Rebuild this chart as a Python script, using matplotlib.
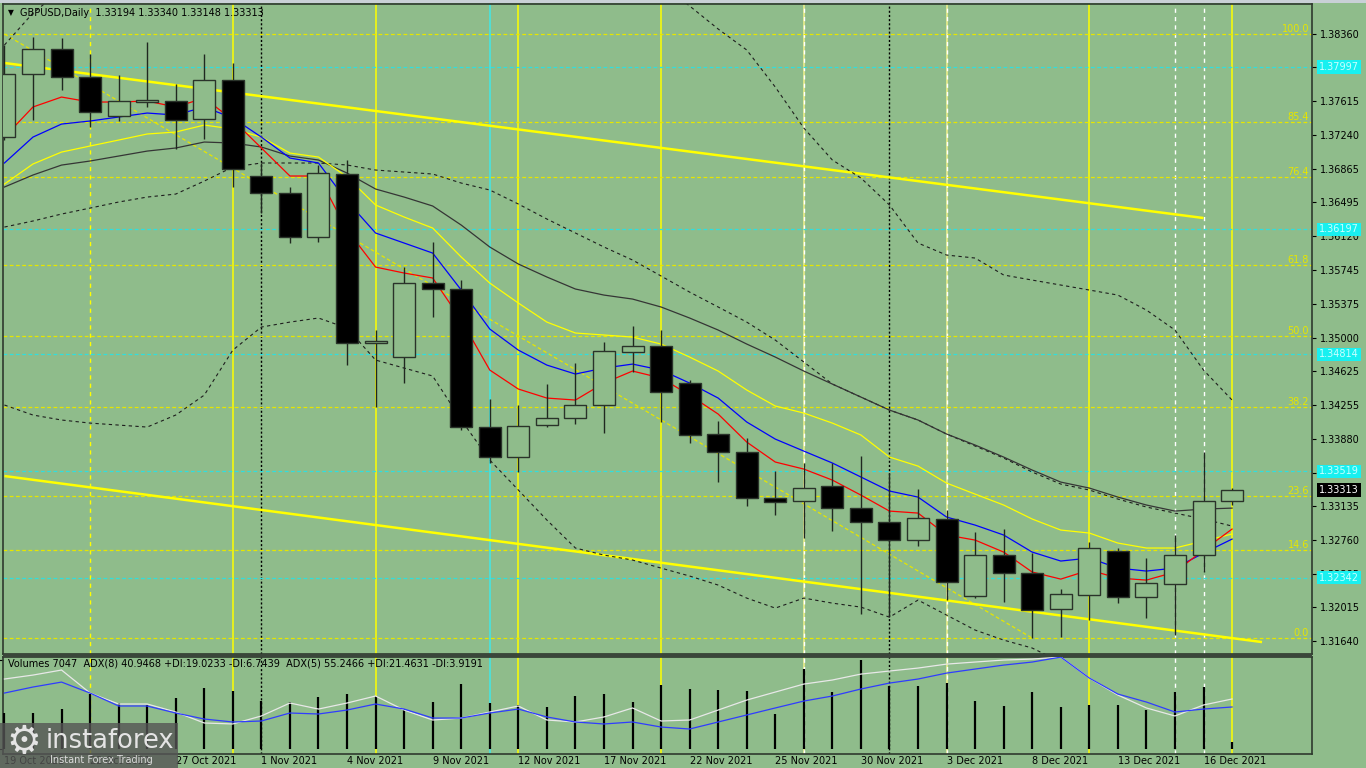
import matplotlib
matplotlib.use("Agg")
import matplotlib.pyplot as plt
from matplotlib.patches import Rectangle
from matplotlib.transforms import blended_transform_factory as blend

W, H = 1366, 768
BG = "#8fbc8b"

# GBPUSD daily, 19 Oct 2021 .. 17 Dec 2021
opens = [1.37220, 1.37917, 1.38194, 1.37884, 1.37452, 1.37607, 1.37618, 1.37419, 1.37850, 1.36788,
         1.36600, 1.36112, 1.36810, 1.34939, 1.34784, 1.35603, 1.35537, 1.34009, 1.33677, 1.34031,
         1.34108, 1.34252, 1.34839, 1.34905, 1.34496, 1.33931, 1.33732, 1.33223, 1.33189, 1.33356,
         1.33112, 1.32957, 1.32758, 1.32990, 1.32138, 1.32592, 1.32392, 1.31994, 1.32149, 1.32636,
         1.32127, 1.32271, 1.32592, 1.33194]
highs = [1.38238, 1.38327, 1.38316, 1.38138, 1.37906, 1.38271, 1.37806, 1.38138, 1.38039, 1.36932,
         1.36666, 1.36910, 1.36965, 1.35083, 1.35780, 1.36057, 1.35636, 1.34319, 1.34252, 1.34485,
         1.34717, 1.34950, 1.35127, 1.35083, 1.34529, 1.34075, 1.33887, 1.33522, 1.33610, 1.33610,
         1.33688, 1.33499, 1.33322, 1.33090, 1.32846, 1.32880, 1.32614, 1.32215, 1.32736, 1.32669,
         1.32558, 1.32813, 1.33732, 1.33340]
lows = [1.37186, 1.37408, 1.37740, 1.37330, 1.37397, 1.37552, 1.37087, 1.37198, 1.36666, 1.36378,
        1.36046, 1.36057, 1.34695, 1.34230, 1.34496, 1.35227, 1.33975, 1.33610, 1.33510, 1.34009,
        1.34042, 1.33942, 1.34618, 1.34064, 1.33832, 1.33400, 1.33134, 1.33034, 1.32780, 1.32857,
        1.31938, 1.31905, 1.32691, 1.32093, 1.32120, 1.32071, 1.31673, 1.31684, 1.31872, 1.32060,
        1.31894, 1.31706, 1.32403, 1.33148]
closes = [1.37917, 1.38194, 1.37884, 1.37496, 1.37618, 1.37629, 1.37408, 1.37850, 1.36865, 1.36600,
          1.36112, 1.36821, 1.34939, 1.34961, 1.35603, 1.35537, 1.34009, 1.33677, 1.34020, 1.34108,
          1.34252, 1.34850, 1.34905, 1.34396, 1.33920, 1.33732, 1.33223, 1.33178, 1.33333, 1.33112,
          1.32957, 1.32758, 1.33001, 1.32293, 1.32592, 1.32392, 1.31983, 1.32160, 1.32669, 1.32127,
          1.32282, 1.32592, 1.33189, 1.33313]

ma_red = [1.37219, 1.37552, 1.37662, 1.37607, 1.37607, 1.37618, 1.37552, 1.37651, 1.37408, 1.37098,
          1.36788, 1.36788, 1.36190, 1.35780, 1.35714, 1.35659, 1.35194, 1.34640, 1.34430, 1.34330,
          1.34308, 1.34496, 1.34629, 1.34552, 1.34363, 1.34153, 1.33843, 1.33622, 1.33544, 1.33422,
          1.33256, 1.33079, 1.33057, 1.32814, 1.32758, 1.32625, 1.32404, 1.32326, 1.32426, 1.32338,
          1.32315, 1.32404, 1.32647, 1.32880]
ma_blue = [1.36932, 1.37219, 1.37363, 1.37397, 1.37441, 1.37485, 1.37463, 1.37552, 1.37430, 1.37219,
           1.36987, 1.36932, 1.36511, 1.36157, 1.36046, 1.35935, 1.35526, 1.35094, 1.34861, 1.34695,
           1.34596, 1.34662, 1.34706, 1.34640, 1.34496, 1.34330, 1.34065, 1.33876, 1.33743, 1.33611,
           1.33456, 1.33301, 1.33234, 1.33013, 1.32924, 1.32814, 1.32625, 1.32526, 1.32559, 1.32448,
           1.32415, 1.32448, 1.32614, 1.32769]
ma_yellow = [1.36699, 1.36921, 1.37053, 1.37120, 1.37186, 1.37253, 1.37275, 1.37352, 1.37308, 1.37219,
             1.37042, 1.36998, 1.36777, 1.36467, 1.36334, 1.36212, 1.35891, 1.35603, 1.35382, 1.35171,
             1.35050, 1.35028, 1.35005, 1.34928, 1.34784, 1.34629, 1.34419, 1.34242, 1.34164, 1.34053,
             1.33921, 1.33677, 1.33577, 1.33389, 1.33267, 1.33146, 1.32991, 1.32869, 1.32836, 1.32725,
             1.32670, 1.32670, 1.32747, 1.32825]
ma_gray = [1.36666, 1.36799, 1.36909, 1.36954, 1.37009, 1.37064, 1.37098, 1.37164, 1.37153, 1.37109,
           1.37009, 1.36965, 1.36821, 1.36644, 1.36555, 1.36456, 1.36245, 1.36002, 1.35814, 1.35670,
           1.35537, 1.35470, 1.35426, 1.35338, 1.35216, 1.35083, 1.34928, 1.34784, 1.34629, 1.34485,
           1.34341, 1.34197, 1.34087, 1.33932, 1.33810, 1.33677, 1.33533, 1.33400, 1.33334, 1.33234,
           1.33146, 1.33079, 1.33101, 1.33112]
bb_mid = [1.36223, 1.36290, 1.36367, 1.36433, 1.36500, 1.36555, 1.36588, 1.36732, 1.36887, 1.36932,
          1.36932, 1.36932, 1.36910, 1.36854, 1.36832, 1.36810, 1.36710, 1.36633, 1.36478, 1.36312,
          1.36157, 1.36002, 1.35858, 1.35681, 1.35503, 1.35338, 1.35171, 1.34972, 1.34729, 1.34485,
          1.34341, 1.34197, 1.34087, 1.33932, 1.33799, 1.33666, 1.33511, 1.33378, 1.33312, 1.33212,
          1.33124, 1.33057, 1.32991, 1.32913]
bb_up = [1.38238, 1.38592, 1.38847, 1.38813, 1.38968, 1.39101, 1.39035, 1.39101, 1.38913, 1.38825,
         1.38791, 1.38769, 1.38825, 1.38957, 1.39002, 1.39046, 1.39334, 1.39622, 1.39644, 1.39644,
         1.39644, 1.39411, 1.39179, 1.38913, 1.38670, 1.38415, 1.38183, 1.37773, 1.37319, 1.36965,
         1.36766, 1.36467, 1.36046, 1.35913, 1.35880, 1.35692, 1.35636, 1.35581, 1.35526, 1.35470,
         1.35304, 1.35083, 1.34640, 1.34308]
bb_low = [1.34253, 1.34142, 1.34087, 1.34053, 1.34031, 1.34009, 1.34142, 1.34363, 1.34861, 1.35116,
          1.35171, 1.35216, 1.35105, 1.34751, 1.34662, 1.34574, 1.34087, 1.33644, 1.33312, 1.32980,
          1.32670, 1.32592, 1.32537, 1.32448, 1.32360, 1.32260, 1.32116, 1.32005, 1.32116, 1.32060,
          1.32016, 1.31905, 1.32094, 1.31928, 1.31762, 1.31651, 1.31563, 1.31408, 1.31098, 1.30932,
          1.30877, 1.30987, 1.31208, 1.31374]

volumes = [37200, 37200, 41300, 56800, 47500, 45400, 52600, 62900, 59900, 49500,
           48500, 53700, 56800, 54700, 41300, 48500, 67100, 47500, 45400, 43300,
           54700, 56800, 48500, 66000, 61900, 60900, 59900, 36100, 82600, 58800,
           91830, 65000, 65000, 68100, 49500, 44400, 58800, 43300, 45400, 45400,
           40200, 58800, 64000, 7047]
adx_white = [77.8, 82.2, 87.8, 62.2, 50.0, 50.0, 41.1, 28.9, 27.8, 36.7,
             51.1, 44.4, 51.1, 58.9, 43.3, 32.2, 34.4, 41.1, 47.8, 32.2,
             30.0, 35.6, 45.6, 31.1, 32.2, 43.3, 54.4, 63.3, 72.2, 76.7,
             83.3, 86.7, 90.0, 94.4, 96.7, 98.9, 100.0, 102.2, 78.9, 60.0,
             45.6, 36.7, 48.9, 55.6]
adx_blue = [62.2, 68.9, 74.4, 62.2, 47.8, 47.8, 40.0, 33.3, 30.0, 31.1,
            40.0, 38.9, 43.3, 50.0, 44.4, 34.4, 34.4, 40.0, 44.4, 35.6,
            30.0, 27.8, 30.0, 24.4, 22.2, 30.0, 37.8, 45.6, 53.3, 58.9,
            66.7, 73.3, 77.8, 84.4, 88.9, 93.3, 96.7, 102.2, 78.9, 61.1,
            52.2, 41.1, 44.4, 46.7]

date_idx = [0, 3, 6, 9, 12, 15, 18, 21, 24, 27, 30, 33, 36, 39, 42]
date_txt = ["19 Oct 2021", "22 Oct 2021", "27 Oct 2021", "1 Nov 2021", "4 Nov 2021",
            "9 Nov 2021", "12 Nov 2021", "17 Nov 2021", "22 Nov 2021", "25 Nov 2021",
            "30 Nov 2021", "3 Dec 2021", "8 Dec 2021", "13 Dec 2021", "16 Dec 2021"]

price_ticks = [1.38360, 1.37990, 1.37615, 1.37240, 1.36865, 1.36495, 1.36120, 1.35745, 1.35375,
               1.35000, 1.34625, 1.34255, 1.33880, 1.33505, 1.33135, 1.32760, 1.32385, 1.32015, 1.31640]
cyan_levels = [1.37997, 1.36197, 1.34814, 1.33519, 1.32342]
fib_names = ["100.0", "85.4", "76.4", "61.8", "50.0", "38.2", "23.6", "14.6", "0.0"]
fib_prices = [1.38360, 1.37384, 1.36782, 1.35806, 1.35017, 1.34227, 1.33251, 1.32649, 1.31673]
fib_diag = ([0, 36], [1.38360, 1.31673])
trend_up = ([0, 42], [1.38039, 1.36323])
trend_low = ([0, 44.05], [1.33467, 1.31629])

sep_yellow = [8, 13, 18, 23, 38, 43]
sep_pale = [28, 33]
sep_yellow_dash = [3]
sep_black_dot = [9, 31]
sep_white_dash = [41, 42]
sep_cyan = [17]

n = len(closes)
XL = (-0.05, 45.8)

fig = plt.figure(figsize=(W / 100, H / 100), dpi=100, facecolor=BG)


def px_axes(x0, y0, x1, y1):
    return fig.add_axes([x0 / W, 1 - y1 / H, (x1 - x0) / W, (y1 - y0) / H])


def fpx(x, y):
    return x / W, 1 - y / H


ax = px_axes(3, 4, 1312, 654)
vax = px_axes(3, 657, 1312, 754)
for a in (ax, vax):
    a.set_facecolor(BG)
    a.set_xlim(*XL)
    a.set_xticks([])
    for s in a.spines.values():
        s.set_color("#2e3a2e")
        s.set_linewidth(1.2)
    a.yaxis.tick_right()
    a.tick_params(axis="y", direction="out", length=3, width=0.8, pad=3,
                  labelsize=7, colors="black")

ax.set_ylim(1.31497, 1.38692)
ax.set_yticks(price_ticks)
ax.set_yticklabels(["%.5f" % t for t in price_ticks])

# vertical period separators, both panels
for a in (ax, vax):
    for i in sep_yellow:
        a.axvline(i, color="#ffff00", lw=1.1, zorder=1)
    for i in sep_pale:
        a.axvline(i, color="#f2f28a", lw=1.1, zorder=1)
        a.axvline(i, color="white", lw=1.0, ls=(0, (3, 3)), zorder=1)
    for i in sep_yellow_dash:
        a.axvline(i, color="#ffff00", lw=1.0, ls=(0, (3, 3)), zorder=1)
    for i in sep_black_dot:
        a.axvline(i, color="black", lw=1.0, ls=(0, (1.5, 1.5)), zorder=1)
    for i in sep_white_dash:
        a.axvline(i, color="white", lw=1.0, ls=(0, (3, 3)), zorder=1)
    for i in sep_cyan:
        a.axvline(i, color="#40e8e8", lw=1.1, zorder=1)

# horizontal levels
for p in fib_prices:
    ax.axhline(p, color="#e6e600", lw=0.9, ls=(0, (3, 2)), zorder=1)
for p in cyan_levels:
    ax.axhline(p, color="#30dede", lw=0.9, ls=(0, (3, 2)), zorder=1)
ax.plot(*fib_diag, color="#e6e600", lw=0.9, ls=(0, (3, 2)), zorder=1)

# trend channel
ax.plot(*trend_up, color="#ffff00", lw=1.8, zorder=2, solid_capstyle="butt")
ax.plot(*trend_low, color="#ffff00", lw=1.8, zorder=2, solid_capstyle="butt")

# bollinger bands and moving averages
x = list(range(n))
for band in (bb_up, bb_mid, bb_low):
    ax.plot(x, band, color="#1e1e1e", lw=0.8, ls=(0, (3, 3)), zorder=2)
ax.plot(x, ma_gray, color="#353535", lw=0.9, zorder=2)
ax.plot(x, ma_yellow, color="#ffff00", lw=0.9, zorder=2)
ax.plot(x, ma_blue, color="#0000ff", lw=0.9, zorder=2)
ax.plot(x, ma_red, color="#ff0000", lw=0.9, zorder=2)

# candles
bw = 0.77
for i in range(n):
    o, h, l, c = opens[i], highs[i], lows[i], closes[i]
    ax.vlines(i, l, h, color="#202820", lw=1.0, zorder=3)
    bull = c >= o
    ax.add_patch(Rectangle((i - bw / 2, min(o, c)), bw, max(abs(c - o), 0.00003),
                           facecolor=BG if bull else "black",
                           edgecolor="#2a332a", lw=1.0, zorder=4))

# right-hand price boxes
tr = blend(ax.transAxes, ax.transData)
xo = 1 + 7 / 1309
for p in cyan_levels:
    ax.text(xo, p, "%.5f" % p, transform=tr, fontsize=7, color="#c8ffff",
            va="center", ha="left", zorder=10, clip_on=False,
            bbox=dict(boxstyle="square,pad=0.18", facecolor="#18f0f0", edgecolor="none"))
ax.text(xo, closes[-1], "%.5f" % closes[-1], transform=tr, fontsize=7, color="white",
        va="center", ha="left", zorder=10, clip_on=False,
        bbox=dict(boxstyle="square,pad=0.18", facecolor="black", edgecolor="none"))

# fibo labels
for name, p in zip(fib_names, fib_prices):
    ax.text(1 - 3 / 1309, p, name, transform=tr, fontsize=7, color="#e6e600",
            ha="right", va="bottom", zorder=6)

ax.text(*fpx(8, 13), "\u25bc", transform=fig.transFigure, fontsize=5.5, va="center")
ax.text(*fpx(20, 13), "GBPUSD,Daily  1.33194 1.33340 1.33148 1.33313",
        transform=fig.transFigure, fontsize=7, va="center")

# volume panel
vax.set_ylim(-5159, 94926)
vax.set_yticks([0, 91830])
vax.set_yticklabels(["0", "91830"])
vax.vlines(x, 0, volumes, color="black", lw=1.6, zorder=3)
adx = vax.twinx()
adx.set_ylim(-5.6, 102.3)
adx.set_xlim(*XL)
adx.axis("off")
adx.plot(x, adx_white, color="#e8e8e8", lw=0.9, zorder=4)
adx.plot(x, adx_blue, color="#2f3cff", lw=0.9, zorder=4)
vax.text(*fpx(8, 663), "Volumes 7047  ADX(8) 40.9468 +DI:19.0233 -DI:6.7439  "
         "ADX(5) 55.2466 +DI:21.4631 -DI:3.9191",
         transform=fig.transFigure, fontsize=7, va="center")

# date labels
dtr = blend(vax.transData, fig.transFigure)
for i, t in zip(date_idx, date_txt):
    vax.text(i, 1 - 761 / H, t, transform=dtr, fontsize=7, ha="left", va="center",
             clip_on=False)

# frame details
fig.patches.append(Rectangle(fpx(0, 3), 1, 3 / H, transform=fig.transFigure,
                             facecolor="#c9d0d6", edgecolor="none", zorder=0))
fig.patches.append(Rectangle(fpx(3, 657), 1309 / W, 3 / H, transform=fig.transFigure,
                             facecolor="#3a463a", edgecolor="none", zorder=5))

# instaforex watermark
fig.patches.append(Rectangle(fpx(0, 768), 178 / W, 45 / H, transform=fig.transFigure,
                             facecolor="#555555", alpha=0.8, edgecolor="none", zorder=20))
fig.text(*fpx(24, 742), "\u2699", fontsize=28, color="#e4e4e4", ha="center", va="center", zorder=21)
fig.text(*fpx(46, 741), "instaforex", fontsize=18.5, color="#e4e4e4", ha="left", va="center",
         zorder=21)
fig.text(*fpx(50, 760), "Instant Forex Trading", fontsize=7, color="#dadada", ha="left",
         va="center", zorder=21)

fig.savefig("out.png", dpi=100, facecolor=BG)
